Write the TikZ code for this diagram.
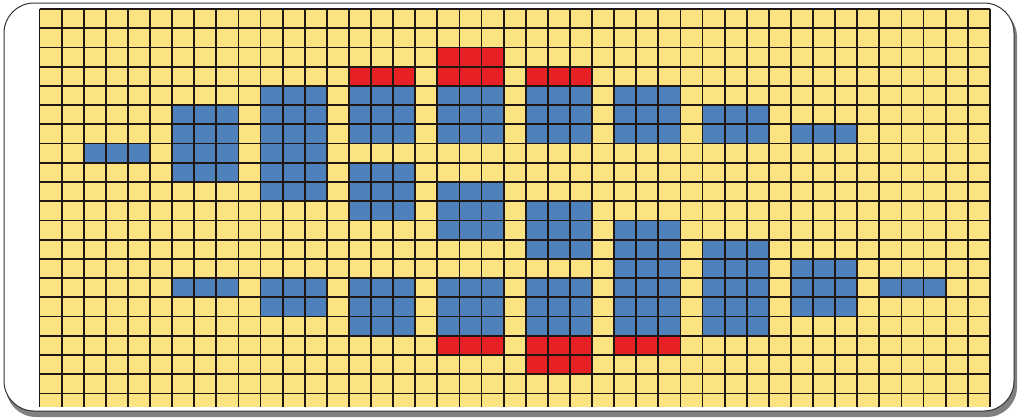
\documentclass[tikz,border=0pt]{standalone}
\definecolor{gridyellow}{RGB}{250,227,128}
\definecolor{gridblue}{RGB}{79,129,189}
\definecolor{gridred}{RGB}{230,32,36}
\definecolor{gridline}{RGB}{30,24,16}
\tikzset{
  frameshadow/.style={fill=black!50, rounded corners=30pt},
  framebox/.style={fill=white, draw=black!80, line width=1pt, rounded corners=30pt},
  bluecells/.style={fill=gridblue},
  redcells/.style={fill=gridred},
  gridlines/.style={draw=gridline, line width=1.8pt},
}
\begin{document}
\begin{tikzpicture}[x=1pt,y=-1pt]
\useasboundingbox (0,0) rectangle (1018,418);
% frame with shadow
\fill[frameshadow] (6,7) rectangle (1017,417);
\path[framebox] (4,3) rectangle (1014,411);
% grid background
\def\xo{39.5}\def\yo{9}\def\cw{22.1}\def\ch{19.22}
\fill[gridyellow] (\xo,\yo) rectangle (989.8,406.7);
% blue blocks: col/row/ncols/nrows
\foreach \c/\r/\w/\h in {2/7/3/1, 6/5/3/4, 10/4/3/6, 14/4/3/3, 14/8/3/3, 14/14/3/3,
  18/4/3/3, 18/9/3/3, 18/14/3/3, 22/4/3/3, 22/10/3/3, 22/14/3/3,
  26/4/3/3, 26/11/3/6, 30/5/3/2, 30/12/3/5, 34/6/3/1, 34/13/3/3,
  38/14/3/1, 6/14/3/1, 10/14/3/2}
  \fill[bluecells] ({\xo+\c*\cw},{\yo+\r*\ch}) rectangle ++({\w*\cw},{\h*\ch});
% red blocks
\foreach \c/\r/\w/\h in {14/3/3/1, 18/2/3/2, 22/3/3/1, 18/17/3/1, 22/17/3/2, 26/17/3/1}
  \fill[redcells] ({\xo+\c*\cw},{\yo+\r*\ch}) rectangle ++({\w*\cw},{\h*\ch});
% grid lines
\foreach \i in {0,...,43}
  \draw[gridlines] ({\xo+\i*\cw},\yo) -- ({\xo+\i*\cw},406.7);
\foreach \j in {0,...,20}
  \draw[gridlines] (\xo,{\yo+\j*\ch}) -- (989.8,{\yo+\j*\ch});
\draw[gridline, line width=2.4pt] (\xo,\yo) -- (989.8,\yo);
\end{tikzpicture}
\end{document}
